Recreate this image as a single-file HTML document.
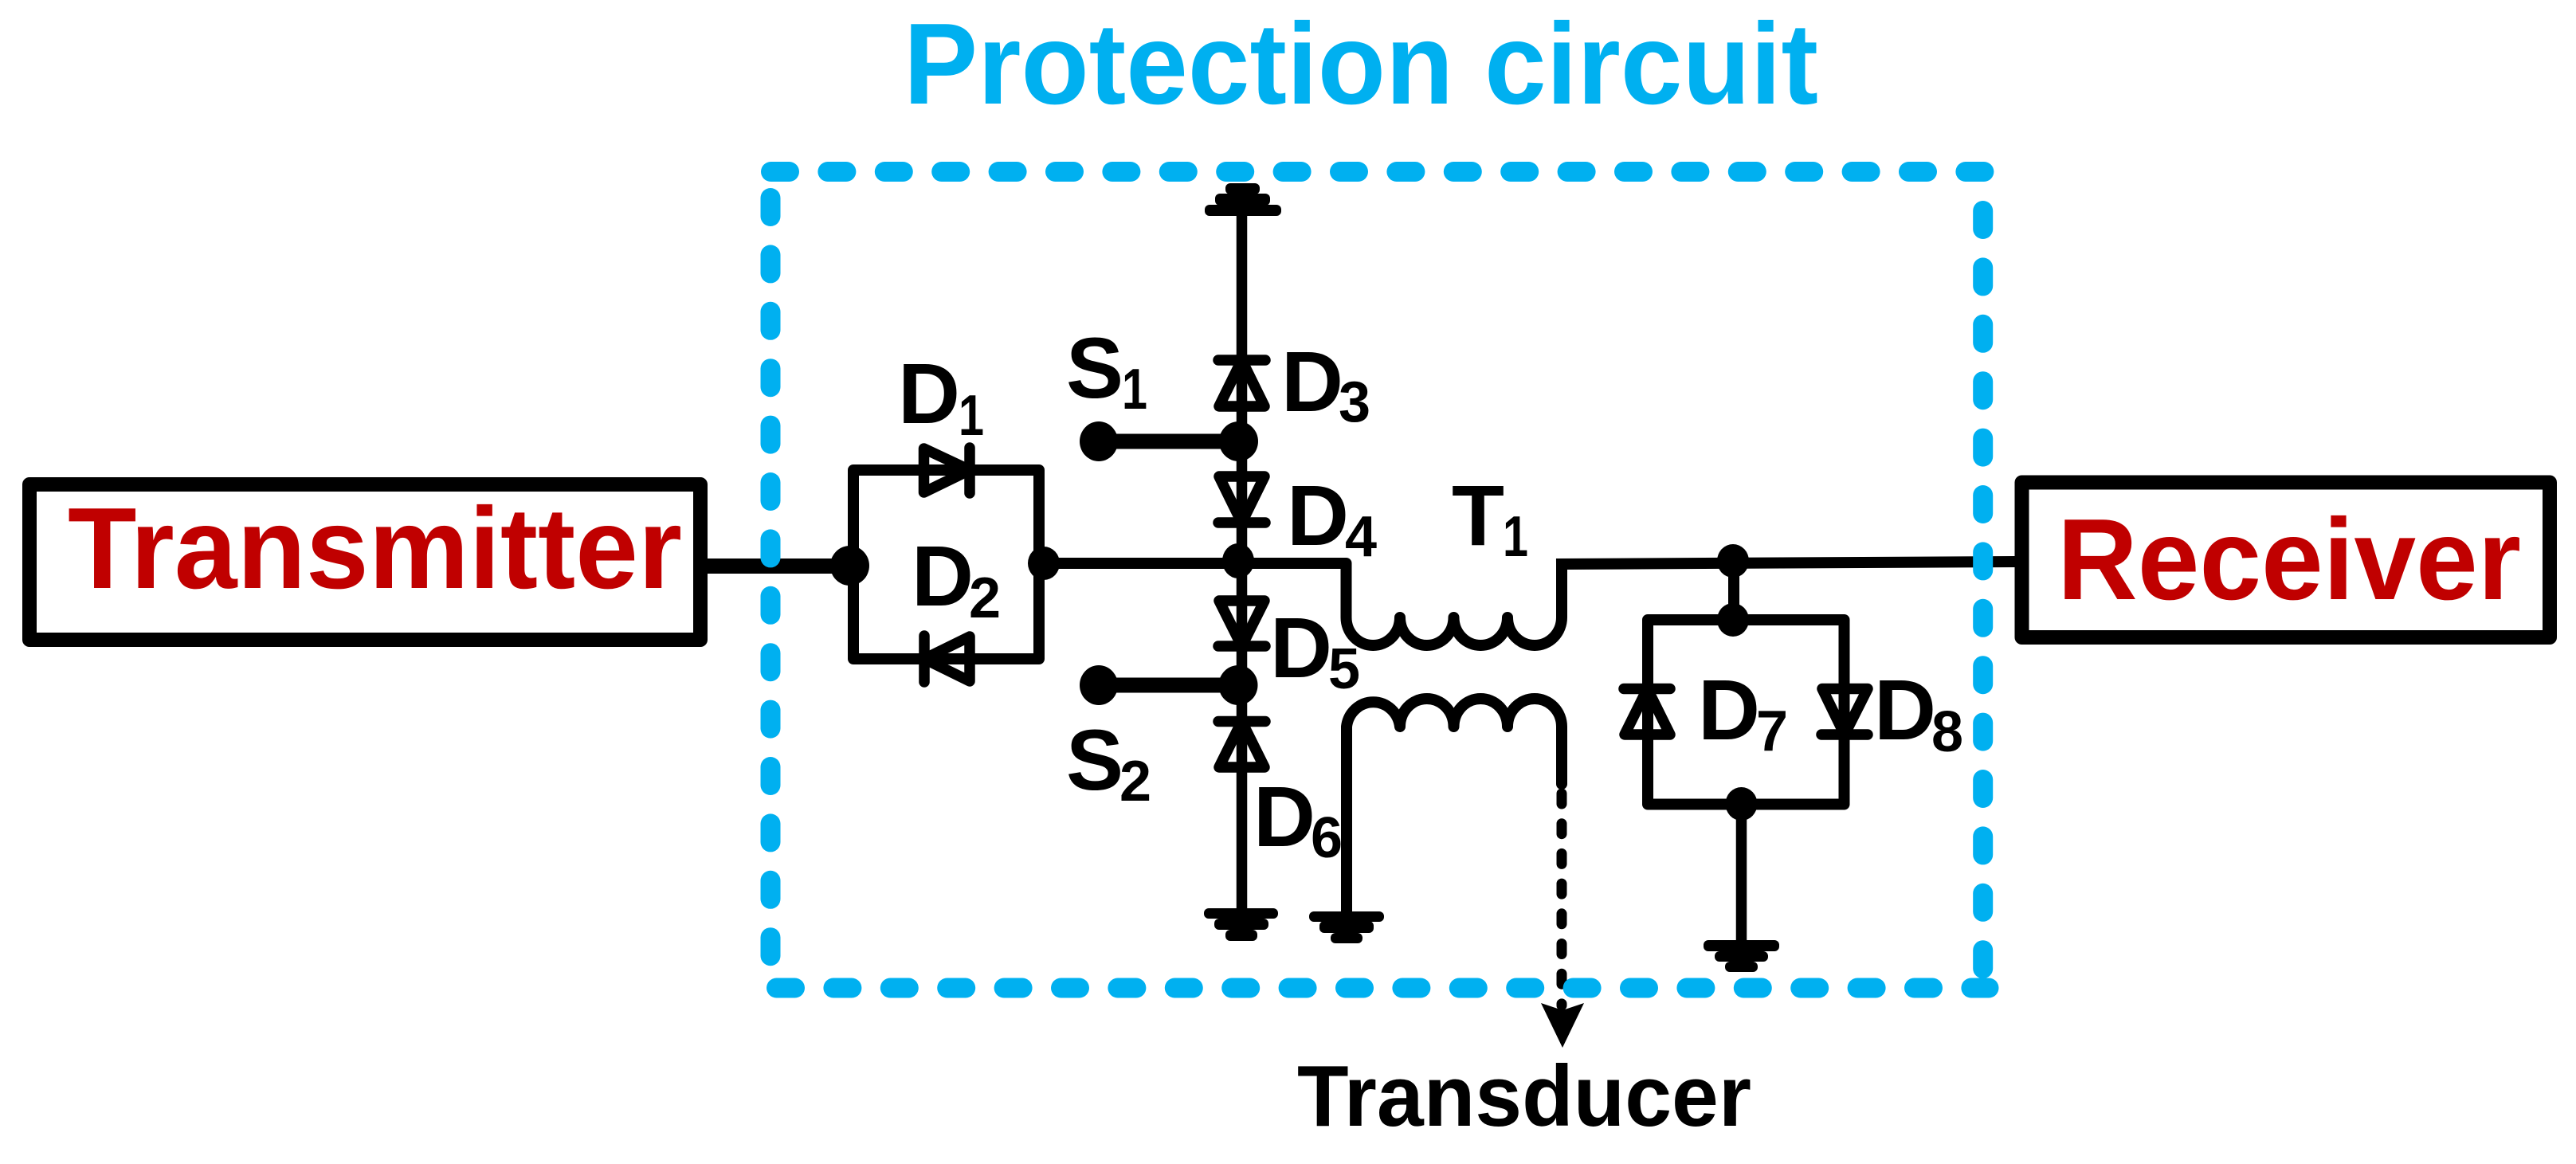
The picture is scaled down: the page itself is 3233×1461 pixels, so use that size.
<!DOCTYPE html>
<html><head><meta charset="utf-8"><style>
html,body{margin:0;padding:0;background:#fff;width:3233px;height:1461px;overflow:hidden}
svg{display:block}
text{font-family:"Liberation Sans",Arial,sans-serif;font-weight:bold}
.d{font-size:108px}.s{font-size:72px}
</style></head><body>
<svg width="3233" height="1461" viewBox="0 0 3233 1461" xmlns="http://www.w3.org/2000/svg">
<rect width="3233" height="1461" fill="#fff"/>
<text x="1134" y="130" font-size="145" fill="#00B0F0" textLength="1148" lengthAdjust="spacingAndGlyphs">Protection circuit</text>

<g fill="none" stroke="#000" stroke-linejoin="round" stroke-linecap="butt">
<!-- boxes -->
<rect x="37" y="608" width="842" height="195" stroke-width="18"/>
<rect x="2537.5" y="605.5" width="662.5" height="194.5" stroke-width="18"/>
<!-- tx wire -->
<path d="M888 710.5H1066" stroke-width="19"/>
<!-- D1/D2 loop -->
<path d="M1071 590H1304V827H1071Z" stroke-width="14"/>
<path d="M1310 707H1689.5V775A33.75 35 0 0 0 1757 775A33.75 35 0 0 0 1824.5 775A33.75 35 0 0 0 1892 775A34 35 0 0 0 1960 775V708" stroke-width="14" stroke-linecap="round"/>
<path d="M1953 708L2530 705" stroke-width="14"/>
<!-- main vertical -->
<path d="M1558.5 265V1145" stroke-width="13.5"/>
<!-- S wires -->
<path d="M1379 554H1554M1379 860H1554" stroke-width="19"/>
<!-- secondary coil -->
<path d="M1690 1150V912A33.75 35 0 0 1 1757 912A33.75 35 0 0 1 1824.5 912A33.75 35 0 0 1 1892 912A34 35 0 0 1 1960 912V984" stroke-width="14" stroke-linecap="round"/>
<path d="M1960 996V1262" stroke-width="13" stroke-linecap="round" stroke-dasharray="13 24.7"/>
<!-- D7/D8 -->
<path d="M2176 704V778" stroke-width="14"/>
<path d="M2068 778H2314.5V1009.5H2068Z" stroke-width="14"/>
<path d="M2185.5 1009V1185" stroke-width="13.5"/>

<!-- diodes -->
<g stroke-width="13.5" stroke-linecap="round">
<path d="M1159.5 563V618L1217 590Z"/><path d="M1217 562V619"/>
<path d="M1217 799V855L1160 827Z"/><path d="M1160 798V856"/>
<path d="M1530 510H1587L1558.5 452Z"/><path d="M1529 452H1588"/>
<path d="M1530 598H1587L1558.5 656Z"/><path d="M1529 656H1588"/>
<path d="M1530 754H1587L1558.5 811Z"/><path d="M1529 811H1588"/>
<path d="M1530 963H1587L1558.5 905.5Z"/><path d="M1529 905.5H1588"/>
<path d="M2039 922H2096L2067.5 864.5Z"/><path d="M2038 864.5H2096"/>
<path d="M2287 864.5H2344L2315 922Z"/><path d="M2286 922H2344"/>
</g>
</g>

<!-- grounds -->
<g fill="#000">
<rect x="1512" y="257" width="96" height="14" rx="6"/><rect x="1525" y="243" width="69" height="15" rx="6"/><rect x="1538" y="230" width="43" height="14" rx="6"/>
<rect x="1511" y="1140" width="93" height="13" rx="6"/><rect x="1524" y="1153" width="68" height="14" rx="6"/><rect x="1538" y="1167" width="40" height="14" rx="6"/>
<rect x="1643" y="1144" width="94" height="13" rx="6"/><rect x="1656" y="1156" width="68" height="15" rx="6"/><rect x="1670" y="1171" width="40" height="13" rx="6"/>
<rect x="2138" y="1180" width="95" height="14" rx="6"/><rect x="2152" y="1194" width="67" height="13" rx="6"/><rect x="2165" y="1207" width="41" height="13" rx="6"/>
<!-- dots -->
<ellipse cx="1066.5" cy="710" rx="24.5" ry="25"/>
<ellipse cx="1310" cy="707" rx="20" ry="21"/>
<ellipse cx="1379" cy="554" rx="24" ry="25"/>
<ellipse cx="1554.5" cy="554" rx="24.5" ry="25"/>
<ellipse cx="1554" cy="704" rx="20" ry="22"/>
<ellipse cx="1379" cy="860" rx="24" ry="25"/>
<ellipse cx="1554" cy="860" rx="24.5" ry="25"/>
<ellipse cx="2175" cy="704" rx="20" ry="21"/>
<ellipse cx="2175" cy="778" rx="20" ry="21"/>
<ellipse cx="2185.5" cy="1009" rx="20" ry="21"/>
<!-- arrow -->
<path d="M1934 1259L1961 1268L1988 1259L1961 1315Z"/>
</g>

<!-- blue dashed box -->
<g fill="none" stroke="#00B0F0" stroke-width="25" stroke-linecap="round" stroke-dasharray="23 48.4">
<path d="M967.5 215.5H2490"/>
<path d="M967 248.5V1202"/>
<path d="M2488.7 264.5V1216"/>
<path d="M974.5 1240H2496"/>
</g>

<!-- labels -->
<text x="85" y="738" font-size="145" fill="#C00000" textLength="771" lengthAdjust="spacingAndGlyphs">Transmitter</text>
<text x="2582" y="752" font-size="145" fill="#C00000" textLength="582" lengthAdjust="spacingAndGlyphs">Receiver</text>
<text x="1628" y="1413" font-size="109" fill="#000" textLength="570" lengthAdjust="spacingAndGlyphs">Transducer</text>

<g fill="#000">
<text class="d" x="1127" y="531">D</text><text class="s" x="1203" y="546" textLength="32" lengthAdjust="spacingAndGlyphs">1</text>
<text class="d" x="1144" y="760">D</text><text class="s" x="1216" y="775">2</text>
<text class="d" x="1338" y="499">S</text><text class="s" x="1408" y="513" textLength="32" lengthAdjust="spacingAndGlyphs">1</text>
<text class="d" x="1608" y="516">D</text><text class="s" x="1680" y="529">3</text>
<text class="d" x="1615" y="684">D</text><text class="s" x="1688" y="698">4</text>
<text class="d" x="1594" y="850">D</text><text class="s" x="1667" y="864">5</text>
<text class="d" x="1338" y="991">S</text><text class="s" x="1405" y="1005">2</text>
<text class="d" x="1573" y="1062">D</text><text class="s" x="1645" y="1076">6</text>
<text class="d" x="1822" y="684">T</text><text class="s" x="1886" y="698" textLength="32" lengthAdjust="spacingAndGlyphs">1</text>
<text class="d" x="2131" y="928">D</text><text class="s" x="2204" y="942">7</text>
<text class="d" x="2352" y="928">D</text><text class="s" x="2424" y="943">8</text>
</g>
</svg>
</body></html>
